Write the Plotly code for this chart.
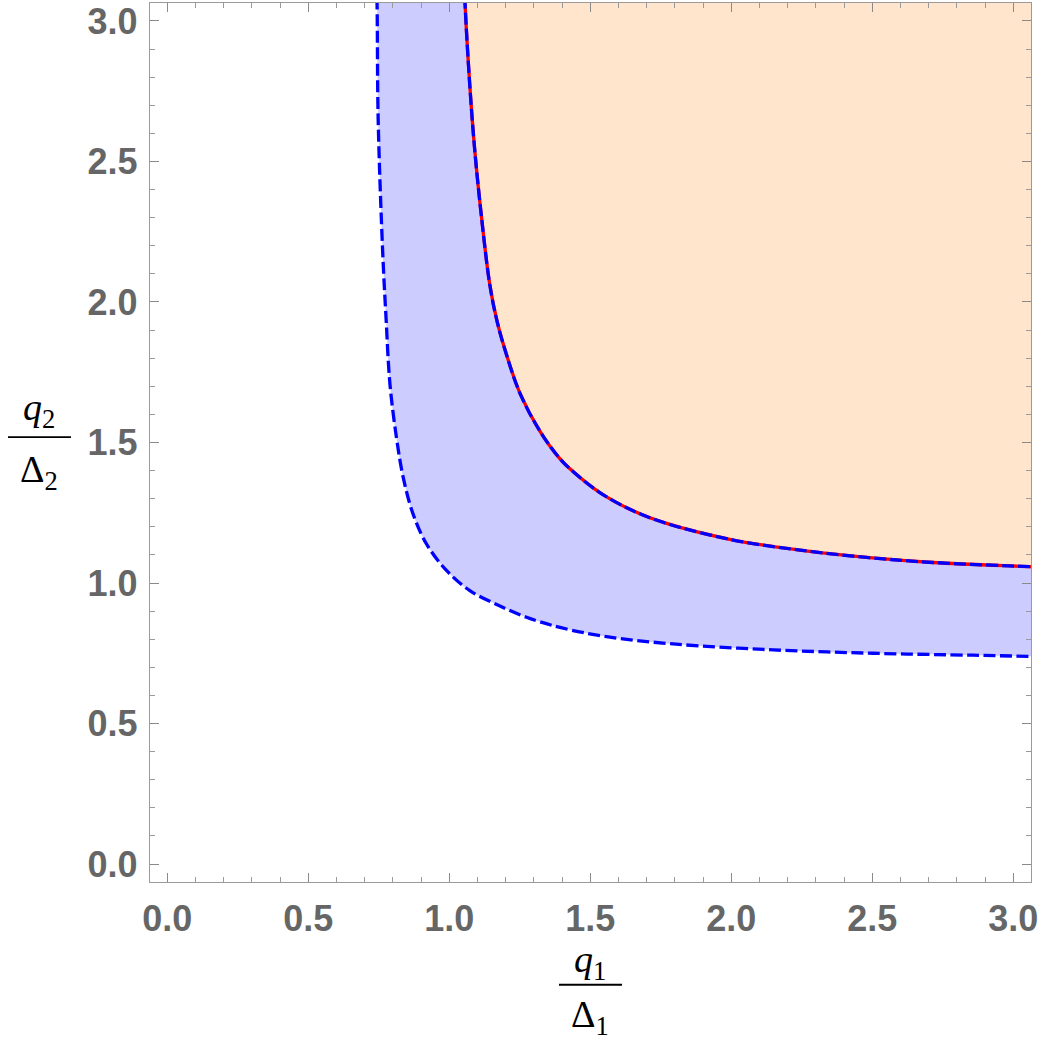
import plotly.graph_objects as go

# Outer boundary (blue dashed)
outer_x = [0.740, 0.744, 0.748, 0.764, 0.776, 0.790, 0.813, 0.837, 0.872, 0.920, 0.991,
           1.073, 1.180, 1.274, 1.322, 1.400, 1.558, 1.794, 2.149, 2.503, 2.858, 3.065, 3.200]
outer_y = [3.200, 3.067, 2.653, 2.180, 1.943, 1.706, 1.517, 1.375, 1.245, 1.138, 1.044,
           0.973, 0.918, 0.878, 0.862, 0.840, 0.809, 0.783, 0.762, 0.750, 0.743, 0.739, 0.737]

# Inner boundary (blue dashed over red)
inner_x = [1.052, 1.056, 1.073, 1.091, 1.115, 1.144, 1.170, 1.204, 1.251, 1.322, 1.393,
           1.440, 1.534, 1.652, 1.771, 2.007, 2.244, 2.480, 2.716, 3.059, 3.200]
inner_y = [3.200, 3.067, 2.771, 2.535, 2.298, 2.061, 1.930, 1.810, 1.675, 1.540, 1.442,
           1.396, 1.322, 1.257, 1.212, 1.153, 1.117, 1.091, 1.073, 1.058, 1.052]

corner = 3.2
tick_vals = [0.0, 0.5, 1.0, 1.5, 2.0, 2.5, 3.0]
tick_text = ["0.0", "0.5", "1.0", "1.5", "2.0", "2.5", "3.0"]

BLUE_FILL = "rgb(204,204,255)"
ORANGE_FILL = "rgb(255,229,204)"
SM = 1.0

fig = go.Figure()

# blue region (outer curve -> corner)
fig.add_trace(go.Scatter(
    x=outer_x + [corner, corner], y=outer_y + [corner, corner],
    mode="lines", fill="toself", fillcolor=BLUE_FILL,
    line=dict(width=0, color=BLUE_FILL, shape="spline", smoothing=SM),
    hoverinfo="skip", showlegend=False))
# orange region (inner curve -> corner)
fig.add_trace(go.Scatter(
    x=inner_x + [corner, corner], y=inner_y + [corner, corner],
    mode="lines", fill="toself", fillcolor=ORANGE_FILL,
    line=dict(width=0, color=ORANGE_FILL, shape="spline", smoothing=SM),
    hoverinfo="skip", showlegend=False))
# outer dashed line
fig.add_trace(go.Scatter(
    x=outer_x, y=outer_y, mode="lines",
    line=dict(color="rgb(0,0,255)", width=3.3, dash="12px,4.5px", shape="spline", smoothing=SM),
    hoverinfo="skip", showlegend=False))
# inner red solid + blue dashed
fig.add_trace(go.Scatter(
    x=inner_x, y=inner_y, mode="lines",
    line=dict(color="rgb(255,0,0)", width=3.3, shape="spline", smoothing=SM),
    hoverinfo="skip", showlegend=False))
fig.add_trace(go.Scatter(
    x=inner_x, y=inner_y, mode="lines",
    line=dict(color="rgb(0,0,255)", width=3.3, dash="12px,4px", shape="spline", smoothing=SM),
    hoverinfo="skip", showlegend=False))

axis_common = dict(
    showgrid=False, zeroline=False,
    showline=True, linecolor="#9a9a9a", linewidth=1.3, mirror="ticks",
    ticks="inside", ticklen=9, tickwidth=1.2, tickcolor="#8a8a8a",
    tickvals=tick_vals, ticktext=tick_text, ticklabeloverflow="allow",
    tickfont=dict(family="Liberation Sans", size=36, color="#666666", weight="bold"),
    minor=dict(dtick=0.1, tick0=0, ticks="inside", ticklen=5, tickwidth=1, tickcolor="#9a9a9a", showgrid=False),
)

fig.update_layout(
    width=1042, height=1046,
    margin=dict(l=150, r=11, t=1, b=164),
    paper_bgcolor="white", plot_bgcolor="white",
    xaxis=dict(range=[-0.061, 3.063], ticklabelstandoff=5, **axis_common),
    yaxis=dict(range=[-0.064, 3.064], ticklabelstandoff=4, **axis_common),
)

math_font = dict(family="Liberation Serif", size=38, color="black")
annos = [
    dict(text="<i>q</i><sub>1</sub>", x=0.4994, y=-0.0905),
    dict(text="Δ<sub>1</sub>", x=0.4994, y=-0.1532),
    dict(text="<i>q</i><sub>2</sub>", x=-0.126, y=0.5375),
    dict(text="Δ<sub>2</sub>", x=-0.126, y=0.466),
]
for a in annos:
    fig.add_annotation(text=a["text"], x=a["x"], y=a["y"], xref="paper", yref="paper",
                       xanchor="center", yanchor="middle", showarrow=False, font=math_font)

fig.add_shape(type="line", xref="paper", yref="paper",
              x0=0.4642, x1=0.5358, y0=-0.1169, y1=-0.1169, line=dict(color="black", width=1.8))
fig.add_shape(type="line", xref="paper", yref="paper",
              x0=-0.1612, x1=-0.0897, y0=0.5062, y1=0.5062, line=dict(color="black", width=1.8))

fig.write_html("out.html")
